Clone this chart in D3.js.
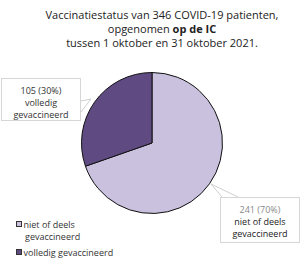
<!DOCTYPE html>
<html><head><meta charset="utf-8">
<script src="https://cdn.jsdelivr.net/npm/d3@7"></script>
<style>body{margin:0;background:#fff}svg{display:block;font-family:"Open Sans","DejaVu Sans",sans-serif}</style>
</head><body><svg id="c" width="308" height="265"></svg>
<script>
const categories = ["niet of deels gevaccineerd", "volledig gevaccineerd"];
const values = [241, 105];
const percents = ["70%", "30%"];
const colors = ["#cac1de", "#5f4b81"];

const svg = d3.select("#c");

// Title
const title = svg.append("text").attr("text-anchor","middle").attr("font-size",11).attr("fill","#222");
title.append("tspan").attr("x",162).attr("y",19).text("Vaccinatiestatus van 346 COVID-19 patienten,");
const t2 = title.append("tspan").attr("x",162).attr("y",33);
t2.append("tspan").text("opgenomen ");
t2.append("tspan").attr("font-weight","bold").text("op de IC");
title.append("tspan").attr("x",162).attr("y",47).text("tussen 1 oktober en 31 oktober 2021.");

// Pie
const cx = 152, cy = 143, r = 70.5;
const pie = d3.pie().sort(null)(values);
const arc = d3.arc().innerRadius(0).outerRadius(r);
const g = svg.append("g").attr("transform",`translate(${cx},${cy})`);
g.selectAll("path").data(pie).join("path")
  .attr("d",arc).attr("fill",(d,i)=>colors[i])
  .attr("stroke","#111").attr("stroke-width",1);

// callouts
function callout(bx,by,bw,bh,tip,base1,base2,lines,cols){
  svg.append("path").attr("d",`M${base1[0]},${base1[1]}L${tip[0]},${tip[1]}L${base2[0]},${base2[1]}`)
    .attr("fill","none").attr("stroke","#cfcfcf").attr("stroke-width",1);
  svg.append("rect").attr("x",bx).attr("y",by).attr("width",bw).attr("height",bh)
    .attr("fill","#fff").attr("stroke","#d6d6d6").attr("stroke-width",1);
  lines.forEach((l,i)=>{
    svg.append("text").attr("x",bx+bw/2).attr("y",by+15+i*12.3).attr("text-anchor","middle")
      .attr("font-size",9).attr("fill",cols[i]).text(l);
  });
}
callout(1.5,78.5,79,42,[91,99],[81,101],[81,112],
  [`${values[1]} (${percents[1]})`,"volledig","gevaccineerd"],["#333","#333","#333"]);
callout(220.5,197.5,79,45,[211,184],[222,197],[238,197],
  [`${values[0]} (${percents[0]})`,"niet of deels","gevaccineerd"],["#888","#222","#222"]);

// legend
const leg = svg.append("g");
leg.append("rect").attr("x",16.5).attr("y",221.5).attr("width",5).attr("height",5).attr("fill",colors[0]).attr("stroke","#333");
leg.append("text").attr("x",23.5).attr("y",227.5).attr("font-size",9).attr("fill","#333").text("niet of deels");
leg.append("text").attr("x",25).attr("y",239.8).attr("font-size",9).attr("fill","#333").text("gevaccineerd");
leg.append("rect").attr("x",16.5).attr("y",249.5).attr("width",5).attr("height",5).attr("fill",colors[1]).attr("stroke","#333");
leg.append("text").attr("x",23.5).attr("y",255.5).attr("font-size",9).attr("fill","#333").text("volledig gevaccineerd");
</script></body></html>
